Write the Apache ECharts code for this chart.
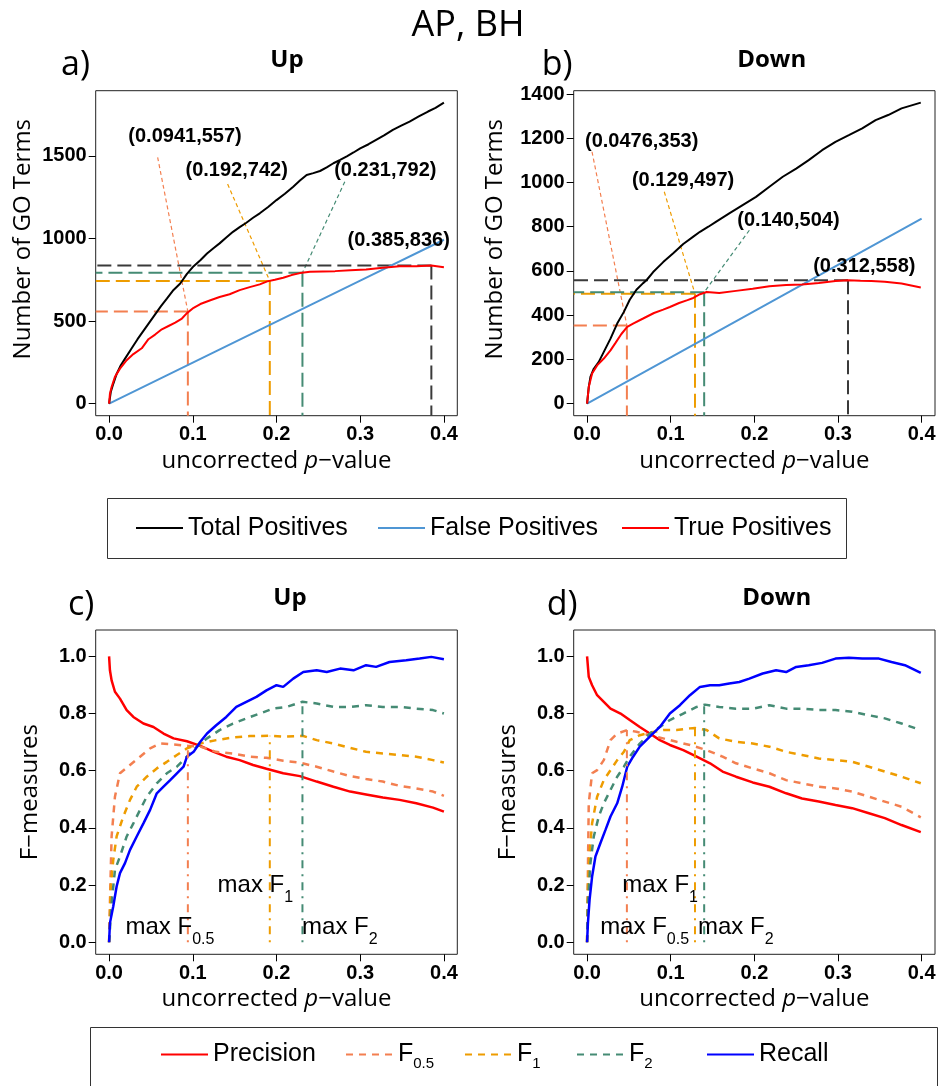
<!DOCTYPE html>
<html>
<head>
<meta charset="utf-8">
<script src="https://cdn.jsdelivr.net/npm/echarts@6/dist/echarts.min.js"></script>
<style>
  html, body { margin: 0; padding: 0; background: #fff; }
  #chart { width: 940px; height: 1086px; }
</style>
</head>
<body>
<div id="chart"></div>
<script>
// ---------- tick values ----------
const xTicks = [0, 0.1, 0.2, 0.3, 0.4];
const yTicksUp = [0, 500, 1000, 1500];
const yTicksDown = [0, 200, 400, 600, 800, 1000, 1200, 1400];
const yTicksF = [0, 0.2, 0.4, 0.6, 0.8, 1.0];

// ---------- a) Up: number of GO terms vs p-value ----------
const upTotal = [[0,0],[0.002,70],[0.005,120],[0.009,180],[0.014,232],[0.02,280],[0.027,335],[0.034,390],[0.041,440],[0.048,490],[0.055,540],[0.062,590],[0.069,635],[0.077,688],[0.085,727],[0.093,785],[0.101,832],[0.109,868],[0.117,909],[0.125,942],[0.132,970],[0.140,1005],[0.148,1040],[0.156,1068],[0.164,1095],[0.172,1125],[0.180,1152],[0.190,1190],[0.200,1232],[0.210,1270],[0.220,1313],[0.228,1350],[0.236,1384],[0.244,1395],[0.252,1408],[0.260,1430],[0.268,1455],[0.276,1475],[0.284,1497],[0.292,1520],[0.300,1545],[0.310,1570],[0.319,1596],[0.329,1625],[0.339,1657],[0.349,1682],[0.359,1707],[0.370,1738],[0.381,1768],[0.390,1790],[0.400,1822]];
const upFalse = [[0,0],[0.1,248],[0.2,496],[0.3,744],[0.4,992]];
const upTrue = [[0,0],[0.001,60],[0.003,101],[0.007,162],[0.013,212],[0.021,263],[0.029,300],[0.039,335],[0.047,390],[0.055,418],[0.063,450],[0.071,470],[0.079,490],[0.087,515],[0.093,548],[0.101,580],[0.109,603],[0.121,626],[0.132,645],[0.144,662],[0.156,687],[0.168,705],[0.180,722],[0.189,740],[0.198,750],[0.208,762],[0.218,778],[0.228,790],[0.240,798],[0.255,800],[0.270,802],[0.288,808],[0.307,812],[0.327,822],[0.347,832],[0.367,832],[0.385,836],[0.400,826]];
// optimum points (p-value, true positives): F0.5, F1, F2, max TP
const upPoints = [[0.0941,557],[0.192,742],[0.231,792],[0.385,836]];

// ---------- b) Down ----------
const downTotal = [[0,0],[0.002,75],[0.004,121],[0.008,158],[0.014,189],[0.020,234],[0.028,294],[0.036,362],[0.044,415],[0.051,470],[0.059,515],[0.067,545],[0.071,558],[0.079,595],[0.091,640],[0.103,680],[0.115,722],[0.127,755],[0.135,777],[0.145,800],[0.154,822],[0.170,860],[0.186,898],[0.202,935],[0.218,981],[0.234,1026],[0.250,1063],[0.265,1101],[0.281,1146],[0.297,1184],[0.313,1214],[0.329,1245],[0.345,1282],[0.360,1305],[0.376,1335],[0.399,1361]];
const downFalse = [[0,0],[0.1,209],[0.2,418],[0.3,628],[0.4,837]];
const downTrue = [[0,0],[0.002,75],[0.006,136],[0.012,173],[0.020,204],[0.028,241],[0.034,275],[0.041,315],[0.048,347],[0.055,362],[0.067,385],[0.080,410],[0.091,425],[0.099,437],[0.110,455],[0.120,468],[0.127,478],[0.135,495],[0.143,505],[0.158,500],[0.178,510],[0.198,520],[0.218,531],[0.238,536],[0.257,539],[0.277,546],[0.297,555],[0.312,558],[0.327,556],[0.340,555],[0.356,551],[0.376,543],[0.399,525]];
const downPoints = [[0.0476,353],[0.129,497],[0.140,504],[0.312,558]];

// ---------- c) Up: precision, recall and F-measures ----------
const upPrecision = [[0,1.0],[0.001,0.951],[0.003,0.916],[0.007,0.876],[0.013,0.852],[0.021,0.812],[0.029,0.788],[0.041,0.765],[0.053,0.753],[0.065,0.730],[0.077,0.713],[0.093,0.703],[0.109,0.687],[0.125,0.666],[0.140,0.649],[0.156,0.637],[0.172,0.620],[0.188,0.607],[0.208,0.591],[0.228,0.581],[0.248,0.562],[0.268,0.544],[0.288,0.527],[0.307,0.517],[0.327,0.506],[0.347,0.498],[0.367,0.486],[0.387,0.471],[0.400,0.457]];
const upRecall = [[0,0],[0.001,0.067],[0.005,0.126],[0.009,0.195],[0.013,0.242],[0.019,0.277],[0.025,0.323],[0.033,0.370],[0.041,0.416],[0.049,0.463],[0.057,0.521],[0.065,0.544],[0.073,0.567],[0.081,0.591],[0.089,0.614],[0.093,0.649],[0.101,0.666],[0.109,0.701],[0.117,0.730],[0.128,0.759],[0.140,0.788],[0.152,0.823],[0.164,0.841],[0.176,0.858],[0.188,0.881],[0.200,0.899],[0.208,0.893],[0.220,0.922],[0.232,0.945],[0.248,0.951],[0.260,0.945],[0.276,0.957],[0.292,0.951],[0.307,0.969],[0.319,0.963],[0.335,0.980],[0.355,0.986],[0.371,0.992],[0.385,0.998],[0.400,0.990]];
const upF05 = [[0,0],[0.001,0.137],[0.003,0.370],[0.007,0.509],[0.013,0.591],[0.025,0.620],[0.037,0.649],[0.049,0.678],[0.061,0.695],[0.077,0.692],[0.094,0.687],[0.109,0.684],[0.128,0.666],[0.148,0.660],[0.168,0.649],[0.188,0.645],[0.208,0.635],[0.228,0.628],[0.248,0.614],[0.268,0.597],[0.288,0.581],[0.307,0.571],[0.327,0.562],[0.347,0.547],[0.367,0.538],[0.387,0.527],[0.400,0.512]];
const upF1 = [[0,0],[0.002,0.195],[0.005,0.288],[0.009,0.370],[0.017,0.440],[0.025,0.498],[0.033,0.544],[0.045,0.579],[0.057,0.608],[0.069,0.631],[0.081,0.655],[0.093,0.678],[0.109,0.695],[0.128,0.707],[0.148,0.716],[0.168,0.721],[0.191,0.722],[0.208,0.719],[0.231,0.722],[0.248,0.707],[0.268,0.695],[0.288,0.680],[0.307,0.666],[0.327,0.660],[0.347,0.655],[0.367,0.649],[0.387,0.637],[0.400,0.629]];
const upF2 = [[0,0],[0.003,0.137],[0.007,0.253],[0.013,0.300],[0.021,0.370],[0.029,0.416],[0.037,0.463],[0.045,0.509],[0.057,0.556],[0.069,0.591],[0.081,0.614],[0.093,0.649],[0.105,0.684],[0.117,0.713],[0.132,0.742],[0.148,0.765],[0.164,0.783],[0.180,0.800],[0.196,0.817],[0.212,0.823],[0.231,0.841],[0.248,0.835],[0.268,0.823],[0.288,0.823],[0.307,0.829],[0.327,0.823],[0.347,0.823],[0.367,0.817],[0.387,0.812],[0.400,0.800]];
// maximum F0.5, F1, F2 reached at the optimum p-values of a)
const upFmax = [0.687, 0.722, 0.841];

// ---------- d) Down ----------
const downPrecision = [[0,1.0],[0.002,0.928],[0.006,0.899],[0.012,0.864],[0.020,0.841],[0.028,0.817],[0.040,0.800],[0.051,0.777],[0.063,0.753],[0.075,0.730],[0.087,0.707],[0.099,0.690],[0.115,0.672],[0.131,0.649],[0.147,0.626],[0.162,0.597],[0.178,0.579],[0.198,0.559],[0.218,0.544],[0.238,0.521],[0.257,0.503],[0.277,0.492],[0.297,0.480],[0.317,0.469],[0.337,0.451],[0.356,0.434],[0.376,0.410],[0.399,0.385]];
const downRecall = [[0,0],[0.001,0.067],[0.003,0.149],[0.006,0.230],[0.010,0.300],[0.016,0.347],[0.022,0.393],[0.028,0.440],[0.036,0.486],[0.042,0.544],[0.048,0.614],[0.055,0.649],[0.063,0.684],[0.075,0.719],[0.087,0.753],[0.099,0.800],[0.111,0.829],[0.123,0.864],[0.135,0.893],[0.147,0.899],[0.158,0.899],[0.170,0.905],[0.182,0.910],[0.194,0.922],[0.210,0.940],[0.226,0.951],[0.238,0.945],[0.250,0.963],[0.265,0.969],[0.281,0.977],[0.297,0.992],[0.313,0.995],[0.329,0.992],[0.349,0.992],[0.364,0.980],[0.380,0.969],[0.399,0.942]];
const downF05 = [[0,0],[0.001,0.253],[0.002,0.486],[0.006,0.591],[0.012,0.602],[0.020,0.637],[0.028,0.707],[0.036,0.730],[0.048,0.742],[0.059,0.736],[0.075,0.724],[0.091,0.713],[0.107,0.701],[0.123,0.690],[0.143,0.672],[0.162,0.649],[0.178,0.626],[0.198,0.608],[0.218,0.591],[0.238,0.567],[0.257,0.556],[0.277,0.544],[0.297,0.538],[0.317,0.527],[0.337,0.509],[0.356,0.492],[0.376,0.474],[0.399,0.437]];
const downF1 = [[0,0],[0.001,0.195],[0.003,0.312],[0.006,0.416],[0.012,0.509],[0.020,0.567],[0.028,0.602],[0.036,0.637],[0.044,0.666],[0.051,0.707],[0.063,0.724],[0.075,0.733],[0.091,0.742],[0.107,0.742],[0.123,0.748],[0.129,0.749],[0.143,0.742],[0.158,0.713],[0.178,0.701],[0.198,0.695],[0.218,0.684],[0.238,0.666],[0.257,0.655],[0.277,0.643],[0.297,0.637],[0.317,0.631],[0.337,0.614],[0.356,0.597],[0.376,0.579],[0.399,0.556]];
const downF2 = [[0,0],[0.001,0.137],[0.004,0.277],[0.008,0.370],[0.014,0.440],[0.020,0.486],[0.028,0.533],[0.036,0.579],[0.044,0.614],[0.051,0.649],[0.063,0.695],[0.075,0.730],[0.087,0.753],[0.099,0.777],[0.115,0.800],[0.131,0.823],[0.141,0.831],[0.158,0.823],[0.178,0.817],[0.198,0.817],[0.218,0.829],[0.238,0.817],[0.257,0.817],[0.277,0.812],[0.297,0.812],[0.317,0.806],[0.337,0.794],[0.356,0.783],[0.376,0.765],[0.399,0.742]];
const downFmax = [0.742, 0.749, 0.831];

// ---------- layout ----------
const X_RANGE = [-0.016, 0.416];
const Y_RANGE_UP = [-73, 1894];
const Y_RANGE_DOWN = [-54.4, 1415];
const Y_RANGE_F = [-0.042, 1.092];

const GRIDS = [
  { left: 95.7, top: 90.7, width: 361.6, height: 325 },
  { left: 573.7, top: 90.7, width: 361.3, height: 325 },
  { left: 95.7, top: 630, width: 361.6, height: 324.3 },
  { left: 573.7, top: 630, width: 361.3, height: 324.3 }
];
// where the point labels sit (data units) and where their leader lines start
const UP_LABEL_POS = [[0.0907, 1616], [0.1524, 1410], [0.330, 1414], [0.346, 990]];
const UP_LEADER_FROM = [[0.058, 1491], [0.1416, 1329], [0.2816, 1343], null];
const DOWN_LABEL_POS = [[0.0653, 1184], [0.1148, 1011], [0.2407, 830], [0.3315, 618]];
const DOWN_LEADER_FROM = [[0.0059, 1139], [0.0923, 958], [0.194, 784], null];
const UP_MAX_LABEL_POS = [[0.019, 0.052], [0.129, 0.198], [0.230, 0.052]];
const DOWN_MAX_LABEL_POS = [[0.015, 0.052], [0.0416, 0.198], [0.132, 0.052]];

// ---------- colours ----------
const C_TOTAL = '#000000';
const C_FALSE = '#4f96d4';
const C_TRUE = '#ff0000';
const C_F05 = '#f37f50';
const C_F1 = '#ee9c00';
const C_F2 = '#458b74';
const C_RECALL = '#0000ff';
const C_MAXTP = '#3a3a3a';
const ANNOT_COLORS = [C_F05, C_F1, C_F2, C_MAXTP];

const TICK_FONT = '"Liberation Sans", Arial, sans-serif';
const TITLE_FONT = '"Open Sans", "Noto Sans", sans-serif';

function xAxis(gi) {
  return {
    type: 'value', gridIndex: gi, min: X_RANGE[0], max: X_RANGE[1],
    axisLine: { show: false, onZero: false },
    splitLine: { show: false },
    axisTick: { show: true, customValues: xTicks, length: 7, lineStyle: { color: '#000', width: 1 } },
    axisLabel: {
      show: true, customValues: xTicks, margin: 9,
      formatter: v => v.toFixed(1),
      fontFamily: TICK_FONT, fontWeight: 'bold', fontSize: 20, color: '#000'
    },
    name: 'uncorrected {i|p}\u2212value',
    nameLocation: 'middle', nameGap: 33,
    nameTextStyle: {
      fontFamily: TITLE_FONT, fontSize: 24, color: '#000',
      rich: { i: { fontFamily: TITLE_FONT, fontSize: 24, fontStyle: 'italic', color: '#000' } }
    }
  };
}

function yAxis(gi, range, ticks, decimals, name, gap, shift) {
  return {
    type: 'value', gridIndex: gi, min: range[0], max: range[1],
    axisLine: { show: false, onZero: false },
    splitLine: { show: false },
    axisTick: { show: true, customValues: ticks, length: 7, lineStyle: { color: '#000', width: 1 } },
    axisLabel: {
      show: true, customValues: ticks, margin: 9,
      formatter: v => v.toFixed(decimals),
      fontFamily: TICK_FONT, fontWeight: 'bold', fontSize: 20, color: '#000'
    },
    name: name, nameLocation: 'middle', nameRotate: 90, nameGap: gap,
    nameTextStyle: { fontFamily: TITLE_FONT, fontSize: 24, color: '#000', padding: [0, 0, 0, shift] }
  };
}

function line(gi, name, data, color, width, dash, z) {
  return {
    type: 'line', name: name, xAxisIndex: gi, yAxisIndex: gi, data: data,
    symbol: 'none', showSymbol: false, animation: false, silent: true,
    lineStyle: { color: color, width: width, type: dash || 'solid' },
    itemStyle: { color: color }, z: z || 2
  };
}

// invisible anchors that only carry text labels
function labelLayer(gi, items, labelOpt) {
  return {
    type: 'scatter', xAxisIndex: gi, yAxisIndex: gi, symbolSize: 1, silent: true, animation: false,
    itemStyle: { color: 'rgba(255,255,255,0)', opacity: 1 }, z: 6,
    label: Object.assign({ show: true, color: '#000', opacity: 1, textBorderWidth: 0 }, labelOpt),
    data: items
  };
}

const series = [];

// panels a) and b)
function countPanel(gi, total, fp, tp, points, labelPos, leaderFrom, yMin) {
  // dashed guides from each optimum point to the axes, plus leader lines
  points.forEach((pt, i) => {
    const col = ANNOT_COLORS[i];
    series.push(line(gi, '', [pt, [X_RANGE[0], pt[1]]], col, 2, [14, 6], 1));
    series.push(line(gi, '', [pt, [pt[0], yMin]], col, 2, [14, 6], 1));
    if (leaderFrom[i]) {
      series.push(line(gi, '', [leaderFrom[i], pt], col, 1.2, [4, 3], 1));
    }
  });
  series.push(line(gi, 'False Positives', fp, C_FALSE, 2));
  series.push(line(gi, 'Total Positives', total, C_TOTAL, 2));
  series.push(line(gi, 'True Positives', tp, C_TRUE, 2));
  series.push(labelLayer(gi,
    points.map((pt, i) => ({
      value: labelPos[i],
      label: { formatter: '(' + pt[0].toPrecision(3) + ',' + pt[1] + ')' }
    })),
    { position: 'inside', fontFamily: TICK_FONT, fontWeight: 'bold', fontSize: 20 }
  ));
}
countPanel(0, upTotal, upFalse, upTrue, upPoints, UP_LABEL_POS, UP_LEADER_FROM, Y_RANGE_UP[0]);
countPanel(1, downTotal, downFalse, downTrue, downPoints, DOWN_LABEL_POS, DOWN_LEADER_FROM, Y_RANGE_DOWN[0]);

// panels c) and d)
const SUB_RICH = {
  t: { fontFamily: TICK_FONT, fontSize: 24, lineHeight: 40, verticalAlign: 'middle', color: '#000' },
  s: { fontFamily: TICK_FONT, fontSize: 16, lineHeight: 40, verticalAlign: 'bottom', color: '#000' }
};
const MAX_TEXTS = ['{t|max F}{s|0.5}', '{t|max F}{s|1}', '{t|max F}{s|2}'];
const F_COLORS = [C_F05, C_F1, C_F2];

function fPanel(gi, prec, f05, f1, f2, rec, points, fmax, labelPos) {
  series.push(line(gi, 'Precision', prec, C_TRUE, 2.5));
  series.push(line(gi, 'F0.5', f05, C_F05, 2.5, [7, 6]));
  series.push(line(gi, 'F1', f1, C_F1, 2.5, [7, 6]));
  series.push(line(gi, 'F2', f2, C_F2, 2.5, [7, 6]));
  series.push(line(gi, 'Recall', rec, C_RECALL, 2.5));
  fmax.forEach((f, i) => {
    series.push(line(gi, '', [[points[i][0], 0], [points[i][0], f]], F_COLORS[i], 2, [2, 6, 8, 6], 3));
  });
  series.push(labelLayer(gi,
    labelPos.map((lp, i) => ({ value: lp, label: { formatter: MAX_TEXTS[i] } })),
    { position: 'right', distance: 0, rich: SUB_RICH }
  ));
}
fPanel(2, upPrecision, upF05, upF1, upF2, upRecall, upPoints, upFmax, UP_MAX_LABEL_POS);
fPanel(3, downPrecision, downF05, downF1, downF2, downRecall, downPoints, downFmax, DOWN_MAX_LABEL_POS);

// ---------- legends ----------
const LEGEND_TEXT = { fontFamily: TICK_FONT, fontSize: 25, color: '#000' };
const LEGEND_RICH = {
  t: { fontFamily: TICK_FONT, fontSize: 25, lineHeight: 34, verticalAlign: 'middle', color: '#000' },
  s: { fontFamily: TICK_FONT, fontSize: 15, lineHeight: 34, verticalAlign: 'bottom', color: '#000' }
};
const LEGEND1_ITEMS = [['Total Positives', 135], ['False Positives', 377], ['True Positives', 621]];
const LEGEND2_ITEMS = [['Precision', 160], ['F0.5', 345], ['F1', 464], ['F2', 576], ['Recall', 706]];
const legendFormat = name => {
  if (name === 'F0.5') return '{t|F}{s|0.5}';
  if (name === 'F1') return '{t|F}{s|1}';
  if (name === 'F2') return '{t|F}{s|2}';
  return '{t|' + name + '}';
};
const LEGEND_BASE = {
  padding: 0, itemWidth: 47, itemHeight: 14, selectedMode: false,
  itemStyle: { opacity: 0 },
  lineStyle: { width: 2 }
};
const legends = [];
LEGEND1_ITEMS.forEach(([name, x]) => legends.push(Object.assign({
  data: [name], left: x, top: 515.5, textStyle: LEGEND_TEXT
}, LEGEND_BASE)));
LEGEND2_ITEMS.forEach(([name, x]) => legends.push(Object.assign({
  data: [name], left: x, top: 1042, formatter: legendFormat,
  textStyle: Object.assign({ rich: LEGEND_RICH }, LEGEND_TEXT)
}, LEGEND_BASE)));

// ---------- titles and frames ----------
function txt(text, x, y, size, weight, align) {
  return {
    type: 'text', x: x, y: y, silent: true,
    style: { text: text, fontFamily: TITLE_FONT, fontSize: size, fontWeight: weight || 'normal',
             fill: '#000', align: align || 'center', verticalAlign: 'middle' }
  };
}
const graphic = [
  txt('AP, BH', 468, 26, 36),
  txt('a)', 61, 65.5, 34, 'normal', 'left'),
  txt('Up', 287, 60, 24, 'bold'),
  txt('b)', 541.7, 65.5, 34, 'normal', 'left'),
  txt('Down', 771.7, 60, 24, 'bold'),
  txt('c)', 68, 605.5, 34, 'normal', 'left'),
  txt('Up', 290, 598.5, 24, 'bold'),
  txt('d)', 546.7, 605.5, 34, 'normal', 'left'),
  txt('Down', 776.7, 598.5, 24, 'bold'),
  { type: 'rect', silent: true, shape: { x: 107.5, y: 498.5, width: 739, height: 60 },
    style: { fill: 'none', stroke: '#333', lineWidth: 1 } },
  { type: 'rect', silent: true, shape: { x: 90.5, y: 1027.5, width: 847, height: 80 },
    style: { fill: 'none', stroke: '#333', lineWidth: 1 } }
];

const chart = echarts.init(document.getElementById('chart'), null, { renderer: 'canvas' });
chart.setOption({
  backgroundColor: '#fff',
  animation: false,
  grid: GRIDS.map(g => Object.assign({
    show: true, borderColor: '#222', borderWidth: 1, backgroundColor: 'transparent',
    containLabel: false, outerBoundsMode: 'none'
  }, g)),
  xAxis: [xAxis(0), xAxis(1), xAxis(2), xAxis(3)],
  yAxis: [
    yAxis(0, Y_RANGE_UP, yTicksUp, 0, 'Number of GO Terms', 61, 28),
    yAxis(1, Y_RANGE_DOWN, yTicksDown, 0, 'Number of GO Terms', 67, 28),
    yAxis(2, Y_RANGE_F, yTicksF, 1, 'F\u2212measures', 54, 0),
    yAxis(3, Y_RANGE_F, yTicksF, 1, 'F\u2212measures', 54, 0)
  ],
  legend: legends,
  graphic: graphic,
  series: series
});
</script>
</body>
</html>
